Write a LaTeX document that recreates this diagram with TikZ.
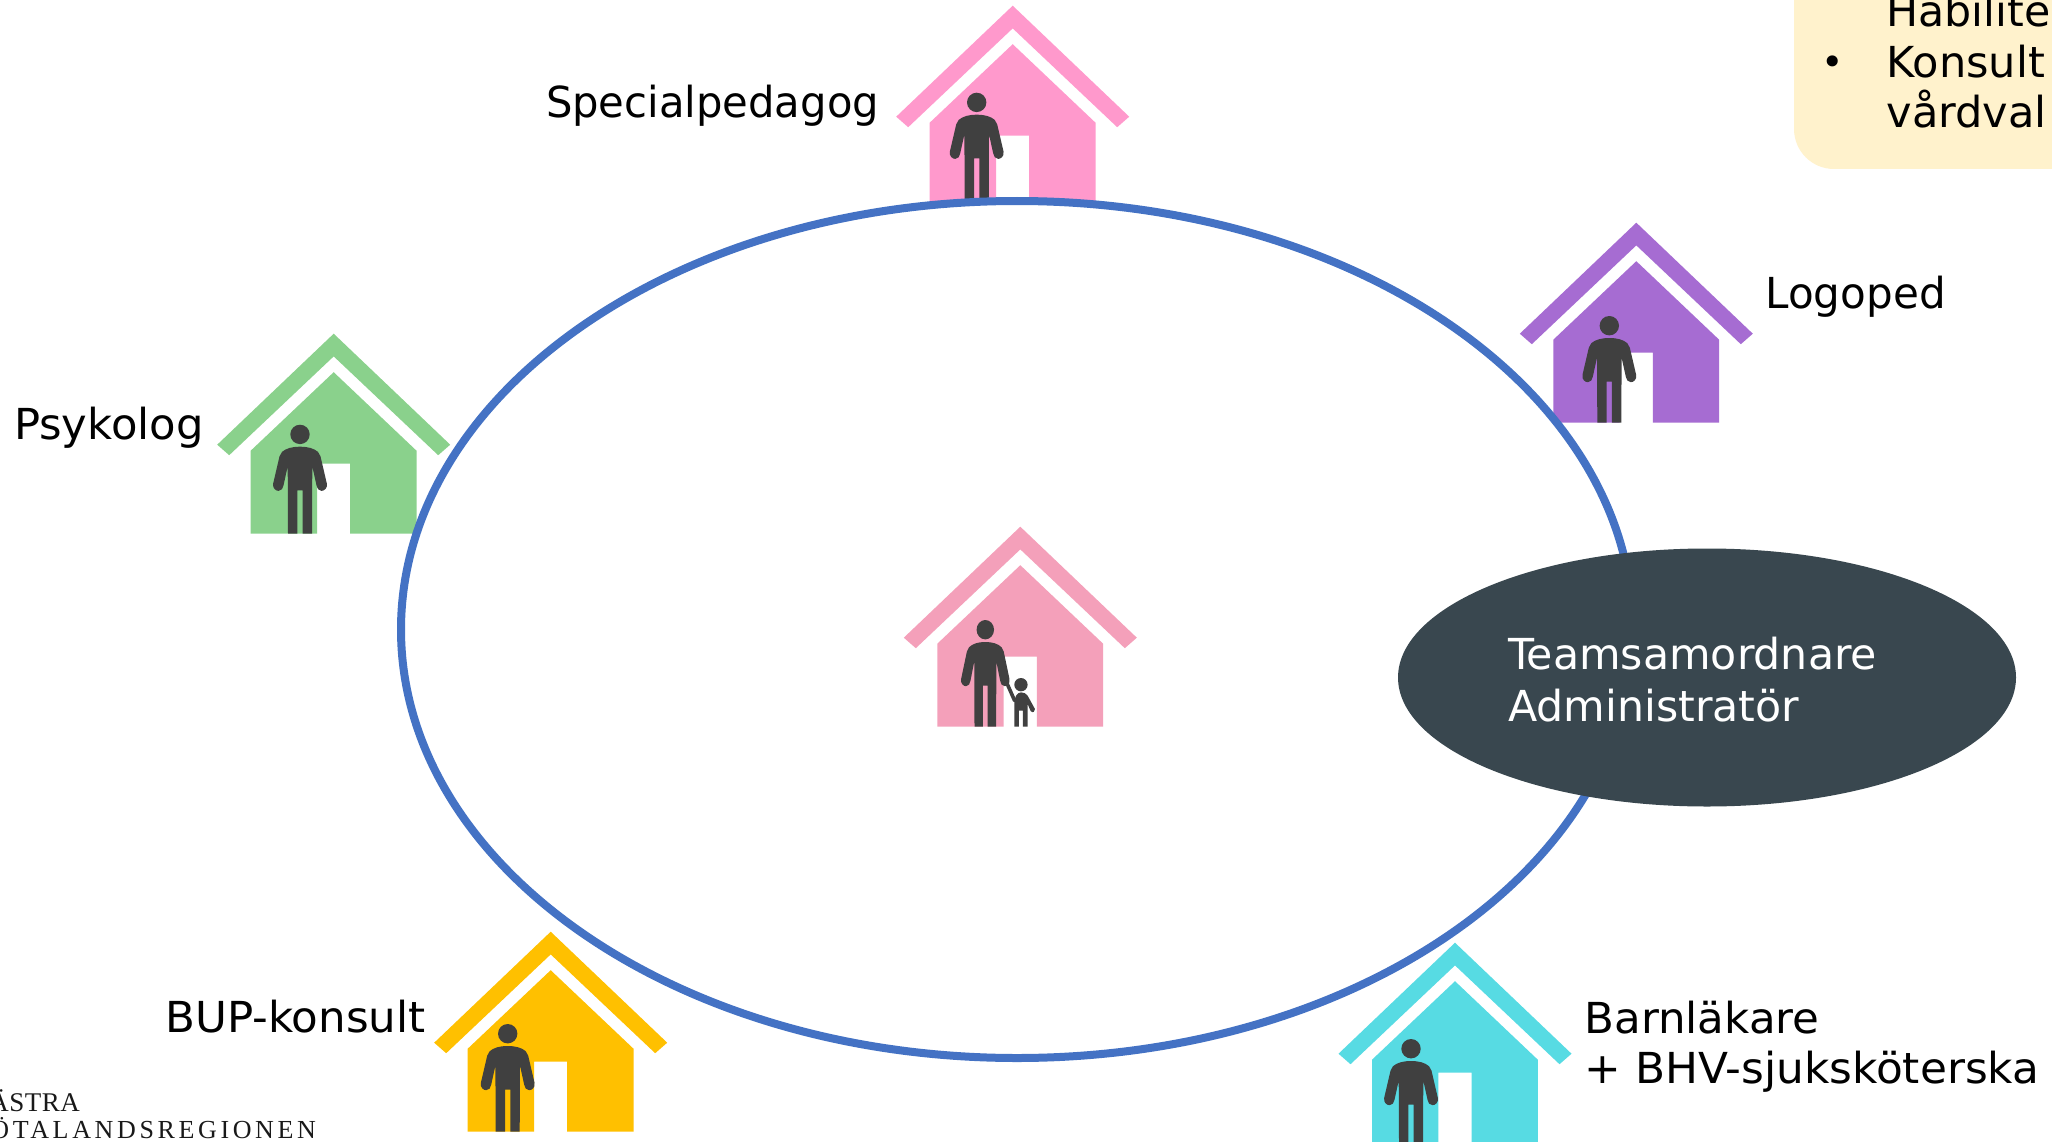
\documentclass[tikz,border=0pt]{standalone}
\usepackage{fontspec}
\setmainfont{DejaVu Sans}
\newfontfamily\logofont[LetterSpace=14]{Liberation Serif}
\newfontfamily\logofontB[LetterSpace=2]{Liberation Serif}
\definecolor{cblue}{HTML}{4472C4}
\definecolor{cdark}{HTML}{39474F}
\definecolor{ccream}{HTML}{FFF2CC}
\definecolor{cperson}{HTML}{404040}
\definecolor{cpinkA}{HTML}{FF99CC}
\definecolor{cpinkB}{HTML}{F4A0BA}
\definecolor{cgreen}{HTML}{8AD18C}
\definecolor{cpurple}{HTML}{A66CD2}
\definecolor{cyellow}{HTML}{FFC000}
\definecolor{ccyan}{HTML}{57DBE3}
\tikzset{
  lab/.style={inner sep=0pt,outer sep=0pt,anchor=base west,font=\fontsize{42.7}{51}\selectfont,text=black},
  logolab/.style={inner sep=0pt,outer sep=0pt,anchor=base east,font=\logofont\fontsize{26}{30}\selectfont,text=black!90},
  logolabB/.style={inner sep=0pt,outer sep=0pt,anchor=base east,font=\logofontB\fontsize{27}{30}\selectfont,text=black!90},
}
% person: #1 = leg bottom relative to head centre
\newcommand\personshape[1]{%
  \fill[cperson] (0,0) circle[radius=9.7];
  \fill[cperson] (0,12.3) .. controls (8,12.3) and (14,14) .. (18,17.5)
    .. controls (19.5,19) and (20,20) .. (20.5,22) -- (26.8,49)
    .. controls (27.8,54) and (24,56.5) .. (21.5,56.5)
    .. controls (18.5,56.5) and (17,54) .. (16.5,51) -- (12.3,32) -- (12,#1) -- (2.6,#1) -- (2.6,56)
    -- (-2.6,56) -- (-2.6,#1) -- (-12,#1) -- (-12.3,32) -- (-16.5,51)
    .. controls (-17,54) and (-18.5,56.5) .. (-21.5,56.5)
    .. controls (-24,56.5) and (-27.8,54) .. (-26.8,49) -- (-20.5,22)
    .. controls (-20,20) and (-19.5,19) .. (-18,17.5)
    .. controls (-14,14) and (-8,12.3) .. (0,12.3) -- cycle;
}
% house body: #1 colour
\newcommand\houseshape[1]{%
  \fill[#1] (0,0) -- (116.5,111) -- (104.5,121.5) -- (0,22.7) -- (-104.5,121.5) -- (-116.5,111) -- cycle;
  \fill[#1] (0,38.5) -- (82.8,117) -- (82.8,200) -- (16.5,200) -- (16.5,130) -- (-16.7,130) -- (-16.7,200) -- (-83,200) -- (-83,117) -- cycle;
}
% #1 colour, #2 x, #3 y, #4 head dx, #5 head dy, #6 leg bottom
\newcommand\house[6]{%
  \begin{scope}[shift={(#2,#3)}]
    \houseshape{#1}
    \begin{scope}[shift={(#4,#5)}]
      \personshape{#6}
    \end{scope}
  \end{scope}
}
\begin{document}
\begin{tikzpicture}[x=1pt,y=-1pt]
  \useasboundingbox (0,0) rectangle (2052,1142);
  \clip (0,0) rectangle (2052,1142);
  \fill[white] (0,0) rectangle (2052,1142);
  % cream box
  \fill[ccream,rounded corners=40pt] (1794,-100) rectangle (2200,169);
  \node[lab,font=\fontsize{38}{44}\selectfont] (bul) at (1821.8,75.5) {•};
  \node[lab] (t1) at (1886.5,27) {Habiliter};
  \node[lab] (t2) at (1886.5,77.7) {\scalebox{1.01}[1]{Konsult}};
  \node[lab] (t3) at (1886.5,128) {\scalebox{1.01}[1]{vårdval}};
  % outer houses
  \house{cpinkA}{1012.7}{5.7}{-36}{96.7}{103.3}
  \house{cpurple}{1636.3}{222.7}{-27}{103}{97}
  \house{cgreen}{333.7}{333.7}{-33.7}{100.7}{99.3}
  \house{cyellow}{550.7}{931.7}{-43}{102}{98}
  \house{ccyan}{1455}{942.7}{-44}{106}{94}
  % ring
  \draw[cblue,line width=8pt,fill=white] (1017,629.5) ellipse[x radius=616,y radius=428.5];
  % centre house
  \begin{scope}[shift={(1020.3,526.7)}]
    \houseshape{cpinkB}
    \begin{scope}[shift={(-35,103)},xscale=.9]
      \personshape{97}
    \end{scope}
    \begin{scope}[shift={(-140.33,-16)},x=0.3333pt,y=-0.3333pt]
      \draw[cperson,line width=3.6pt,line cap=round] (378,511) -- (404,570);
      \fill[cperson] (423,522) circle[radius=20];
      \fill[cperson] (403,648) -- (403,575) .. controls (404,558) and (412,546) .. (423,545)
        .. controls (432,545) and (438,548) .. (443,555) -- (465,595)
        .. controls (467,602) and (458,609) .. (452,601) -- (443,580) -- (443,648) -- (429,648)
        -- (429,600) -- (417,600) -- (417,648) -- cycle;
    \end{scope}
  \end{scope}
  % dark ellipse
  \fill[cdark] (1707,677.5) ellipse[x radius=309,y radius=129];
  \node[lab,text=white] (team) at (1508,669) {Teamsamordnare};
  \node[lab,text=white] (adm) at (1508,721.3) {Administratör};
  % labels
  \node[lab] (spec) at (546,117.5) {\scalebox{.977}[1]{Specialpedagog}};
  \node[lab] (logo) at (1765.5,308.5) {\scalebox{.985}[1]{Logoped}};
  \node[lab] (psyk) at (14,439.5) {\scalebox{1.014}[1]{Psykolog}};
  \node[lab] (bup) at (165.5,1032) {\scalebox{1.02}[1]{BUP-konsult}};
  \node[lab] (barn) at (1584.5,1033) {\scalebox{1.02}[1]{Barnläkare}};
  \node[lab] (bhv) at (1584.5,1083.7) {\scalebox{1.026}[1]{+ BHV-sjuksköterska}};
  % logotype
  \node[logolabB] (vg1) at (80,1111) {VÄSTRA};
  \node[logolab] (vg2) at (316,1138) {GÖTALANDSREGIONEN};
\end{tikzpicture}
\end{document}
